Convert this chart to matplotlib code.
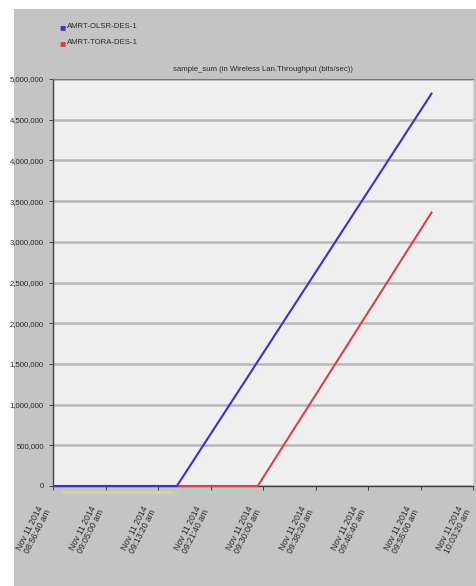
import numpy as np
import matplotlib.pyplot as plt
from matplotlib.patches import Rectangle
from datetime import datetime, timedelta

plt.rcParams["font.family"] = ["Liberation Sans", "DejaVu Sans"]

# Cumulative throughput (bits/sec sum) per scenario, sampled at the bends
t0 = datetime(2014, 11, 11, 8, 56, 40)
olsr_secs = [0, 1180, 3610]
olsr_vals = [0, 0, 4_830_000]
tora_secs = [0, 1950, 3610]
tora_vals = [0, 0, 3_370_000]

series = [
    ("AMRT-OLSR-DES-1", olsr_secs, olsr_vals, "#3a2fd8"),
    ("AMRT-TORA-DES-1", tora_secs, tora_vals, "#d8404e"),
]

tick_secs = np.arange(0, 4001, 500)
y_ticks = np.arange(0, 5_000_001, 500_000)

# thin status strips drawn just under the time axis: (start s, end s, colour)
strips = [(90, 1150, "#d6d49a"), (1150, 1190, "#c6c6dc"),
          (1230, 1870, "#a9d6b4"), (1870, 1960, "#e2b4b4")]

fig = plt.figure(figsize=(4.77, 5.86), dpi=100)
fig.patch.set_facecolor("white")
fig.patches.append(Rectangle((14 / 477, 0), 1, 1 - 9 / 586, transform=fig.transFigure,
                             facecolor="#c4c4c4", edgecolor="none", zorder=-10))

ax = fig.add_axes([53 / 477, 1 - 486 / 586, 420 / 477, 407 / 586])
ax.set_facecolor("#efefef")

# first series gets the top layer so its flat run stays visible
for k, (name, secs, vals, color) in enumerate(series):
    times = [t0 + timedelta(seconds=s) for s in secs]
    ax.plot(times, vals, color=color, lw=1.5, label=name, zorder=6 - k, clip_on=False,
            solid_capstyle="butt")

ax.set_xlim(t0, t0 + timedelta(seconds=4000))
ax.set_ylim(0, 5_000_000)

for s0, s1, c in strips:
    ax.plot([t0 + timedelta(seconds=s0), t0 + timedelta(seconds=s1)], [-70_000, -70_000],
            color=c, lw=2.2, clip_on=False, zorder=2, solid_capstyle="butt")

ax.set_yticks(y_ticks)
ax.yaxis.set_major_formatter(plt.FuncFormatter(lambda v, _: f"{int(v):,}"))
ax.grid(axis="y", color="#b8b8b8", lw=1.8, zorder=1)

ticks = [t0 + timedelta(seconds=int(s)) for s in tick_secs]
ax.set_xticks(ticks)
ax.set_xticklabels([t.strftime("%b %d %Y\n%I:%M:%S ") + t.strftime("%p").lower() for t in ticks],
                   rotation=63, ha="right", va="bottom", rotation_mode="anchor", fontsize=6.2,
                   color="#2a2a2a", linespacing=0.95)
ax.tick_params(axis="y", labelsize=5.6, colors="#2a2a2a", length=3, width=0.6)
ax.tick_params(axis="x", length=3, width=0.6, colors="#2a2a2a", pad=16)

for side in ("left", "bottom"):
    ax.spines[side].set_color("#404040")
    ax.spines[side].set_linewidth(1.0)
ax.spines["top"].set_color("#7a7a7a")
ax.spines["right"].set_color("#d8d8d8")

ax.set_title("sample_sum (in Wireless Lan.Throughput (bits/sec))", fontsize=5.6, color="#2a2a2a", pad=6)

# legend with square swatches above the plot
for i, (name, _, _, color) in enumerate(series):
    y = 1 - (27 + 16 * i) / 586
    fig.text(59 / 477, y, "\u25a0", color=color, fontsize=7.5, va="center", ha="left")
    fig.text(67 / 477, y, name, color="#2a2a2a", fontsize=5.6, va="center", ha="left")

fig.savefig("out.png", dpi=100)
